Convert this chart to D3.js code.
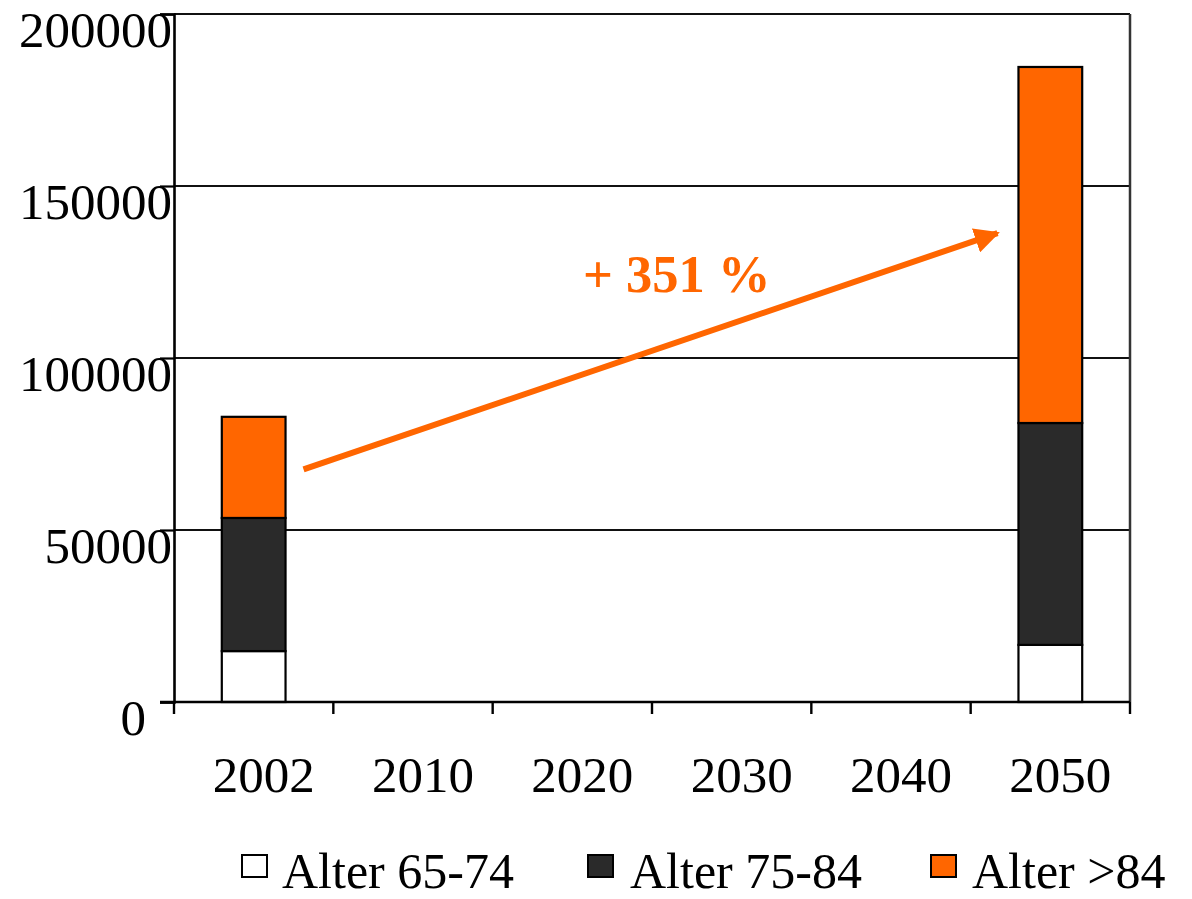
<!DOCTYPE html>
<html>
<head>
<meta charset="utf-8">
<script src="https://cdn.jsdelivr.net/npm/d3@7"></script>
<style>
  html, body { margin: 0; padding: 0; background: #fff; }
  svg { display: block; }
  text { font-family: "Liberation Serif", "Times New Roman", serif; fill: #000; }
</style>
</head>
<body>
<svg id="chart" width="1192" height="899"></svg>
<script>
// Categories (years) and stacked series (persons by age group)
const years = ["2002", "2010", "2020", "2030", "2040", "2050"];
const seriesKeys = ["a6574", "a7584", "a85"];
const seriesNames = ["Alter 65-74", "Alter 75-84", "Alter >84"];
const seriesColors = ["#ffffff", "#2a2a2a", "#ff6600"];
const age6574 = [14800, null, null, null, null, 16600];
const age7584 = [38700, null, null, null, null, 64500];
const age85 = [29400, null, null, null, null, 103500];
const yTicks = [0, 50000, 100000, 150000, 200000];
const growthLabel = "+ 351 %";

const svg = d3.select("#chart");

const plotLeft = 174, plotRight = 1130, plotTop = 14, plotBottom = 702;

const x = d3.scaleBand().domain(years).range([plotLeft, plotRight]).paddingInner(0).paddingOuter(0);
const y = d3.scaleLinear().domain([0, 200000]).range([plotBottom, plotTop]);

// Horizontal gridlines
svg.append("g")
  .selectAll("line")
  .data(yTicks.filter(d => d > 0))
  .join("line")
  .attr("x1", plotLeft).attr("x2", plotRight)
  .attr("y1", d => y(d)).attr("y2", d => y(d))
  .attr("stroke", "#111").attr("stroke-width", 2);

// Right border of the plot area
svg.append("line")
  .attr("x1", plotRight).attr("x2", plotRight)
  .attr("y1", y(200000)).attr("y2", plotBottom)
  .attr("stroke", "#333").attr("stroke-width", 2.5);

// Stacked data
const table = years.map((yr, i) => ({
  year: yr,
  a6574: age6574[i], a7584: age7584[i], a85: age85[i]
})).filter(d => d.a6574 != null);

const stack = d3.stack().keys(seriesKeys);
const layers = stack(table);

const barW = x.bandwidth() * 0.4;

svg.append("g")
  .selectAll("g")
  .data(layers)
  .join("g")
  .attr("fill", (d, i) => seriesColors[i])
  .selectAll("rect")
  .data(d => d)
  .join("rect")
  .attr("x", d => x(d.data.year) + (x.bandwidth() - barW) / 2)
  .attr("width", barW)
  .attr("y", d => y(d[1]))
  .attr("height", d => y(d[0]) - y(d[1]))
  .attr("stroke", "#000")
  .attr("stroke-width", 2.2);

// Y axis
const yAxis = d3.axisLeft(y).tickValues(yTicks).tickSize(14).tickFormat(d3.format("d"));
const gy = svg.append("g").attr("transform", `translate(${plotLeft},0)`).call(yAxis);
gy.select(".domain").attr("stroke", "#000").attr("stroke-width", 2.6);
gy.selectAll(".tick line").attr("stroke", "#000").attr("stroke-width", 2.2);
gy.selectAll(".tick text")
  .attr("x", d => d === 0 ? -28 : -2)
  .attr("dy", 32)
  .attr("font-size", 51)
  .attr("font-family", "Liberation Serif, Times New Roman, serif")
  .attr("fill", "#000");

// X axis: tick marks at band boundaries, labels per band
const gx = svg.append("g").attr("transform", `translate(0,${plotBottom})`);
gx.append("line")
  .attr("x1", 160).attr("x2", plotRight)
  .attr("stroke", "#000").attr("stroke-width", 2.6);
const boundaries = years.map(d => x(d)).concat([plotRight]);
gx.selectAll("line.tk")
  .data(boundaries)
  .join("line")
  .attr("class", "tk")
  .attr("x1", d => d).attr("x2", d => d)
  .attr("y1", 0).attr("y2", 12)
  .attr("stroke", "#000").attr("stroke-width", 2.4);
gx.selectAll("text")
  .data(years)
  .join("text")
  .attr("x", d => x(d) + x.bandwidth() / 2 + 10)
  .attr("y", 90)
  .attr("text-anchor", "middle")
  .attr("font-size", 51)
  .text(d => d);

// Growth arrow between the two stacked bars
const orange = seriesColors[2];
const defs = svg.append("defs");
defs.append("marker")
  .attr("id", "arrowHead")
  .attr("viewBox", "0 0 10 10")
  .attr("refX", 9).attr("refY", 5)
  .attr("markerWidth", 4.2).attr("markerHeight", 4.2)
  .attr("markerUnits", "strokeWidth")
  .attr("orient", "auto")
  .append("path")
  .attr("d", "M0,0 L10,5 L0,10 Z")
  .attr("fill", orange);

const ax0 = x("2002") + x.bandwidth() / 2 + barW / 2 + 18;
const ax1 = x("2050") + (x.bandwidth() - barW) / 2 - 21;
svg.append("line")
  .attr("x1", ax0).attr("y1", y(67600))
  .attr("x2", ax1).attr("y2", y(136300))
  .attr("stroke", orange)
  .attr("stroke-width", 6)
  .attr("marker-end", "url(#arrowHead)");

svg.append("text")
  .attr("x", 583).attr("y", 292)
  .attr("font-size", 52.5)
  .attr("font-weight", "bold")
  .style("fill", orange)
  .text(growthLabel);

// Legend
const legendItems = [
  { name: seriesNames[0], color: seriesColors[0], bx: 242, tx: 282 },
  { name: seriesNames[1], color: seriesColors[1], bx: 588, tx: 630 },
  { name: seriesNames[2], color: seriesColors[2], bx: 931, tx: 972 }
];
const lg = svg.append("g");
lg.selectAll("rect")
  .data(legendItems)
  .join("rect")
  .attr("x", d => d.bx).attr("y", 855)
  .attr("width", 25).attr("height", 22)
  .attr("fill", d => d.color)
  .attr("stroke", "#000").attr("stroke-width", 2);
lg.selectAll("text")
  .data(legendItems)
  .join("text")
  .attr("x", d => d.tx).attr("y", 888)
  .attr("font-size", 50)
  .text(d => d.name);
</script>
</body>
</html>
